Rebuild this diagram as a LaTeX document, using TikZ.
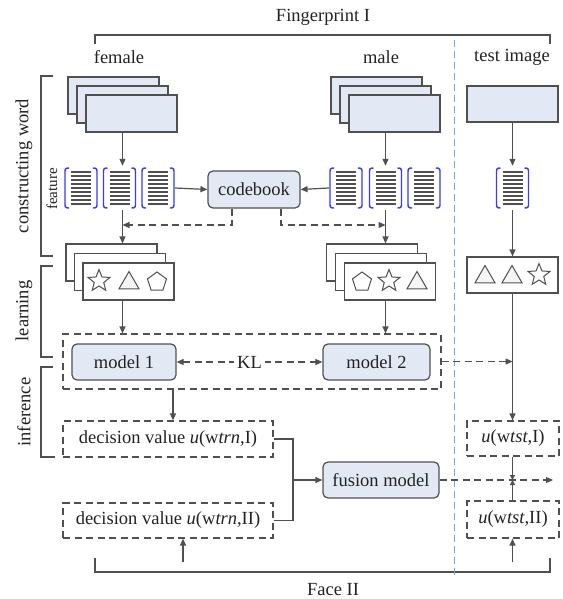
\documentclass[tikz,border=0pt]{standalone}
\usepackage{fontspec}
\setmainfont{Liberation Serif}
\usetikzlibrary{arrows.meta,shapes.geometric}
\definecolor{boxfill}{HTML}{E3E9F4}
\definecolor{edge}{HTML}{505050}
\definecolor{txt}{HTML}{222222}
\definecolor{featblue}{HTML}{3A3AF0}
\definecolor{sepblue}{HTML}{7AA3DA}
\newcommand\featicon[3]{%
  \node[minimum width=34pt, minimum height=44pt, inner sep=0pt] (#1) at (#2,#3) {};
  \draw[featblue, line width=1.4pt] ({#2-12},{#3-20}) .. controls ({#2-16},{#3-20}) and ({#2-16},{#3-19}) .. ({#2-16},{#3-15}) -- ({#2-16},{#3+15}) .. controls ({#2-16},{#3+19}) and ({#2-16},{#3+20}) .. ({#2-12},{#3+20});
  \draw[featblue, line width=1.4pt] ({#2+12},{#3-20}) .. controls ({#2+16},{#3-20}) and ({#2+16},{#3-19}) .. ({#2+16},{#3-15}) -- ({#2+16},{#3+15}) .. controls ({#2+16},{#3+19}) and ({#2+16},{#3+20}) .. ({#2+12},{#3+20});
  \foreach \k in {-16,-12,...,16} \draw[edge, line width=1.6pt] ({#2-10},{#3+\k}) -- ({#2+10},{#3+\k});
}
\begin{document}
\begin{tikzpicture}[x=1pt,y=-1pt, font=\rmfamily\fontsize{18.5}{22}\selectfont, text=txt,
  >={Triangle[length=7pt,width=6pt]},
  line/.style={draw=edge, line width=1.2pt},
  arr/.style={line, ->},
  dsh/.style={dash pattern=on 7pt off 4.5pt},
  img/.style={draw=edge, fill=boxfill, line width=1.2pt, minimum width=91pt, minimum height=37pt, inner sep=0pt},
  wbox/.style={draw=edge, fill=white, line width=1.2pt, minimum width=91pt, minimum height=37pt, inner sep=0pt},
  rbox/.style={draw=edge, fill=boxfill, line width=1.2pt, rounded corners=5pt, inner sep=0pt},
  dbox/.style={draw=edge, line width=1.2pt, dsh, inner sep=0pt},
  shp/.style={draw=edge, line width=1pt, inner sep=0pt},
  starshape/.style={shp, star, star points=5, star point ratio=2.3, minimum size=23pt},
  trishape/.style={shp, regular polygon, regular polygon sides=3, minimum size=23pt, fill=gray!8},
  pentshape/.style={shp, regular polygon, regular polygon sides=5, minimum size=20pt},
  brk/.style={draw=edge, line width=1.1pt},
]
\useasboundingbox (0,0) rectangle (562,599);

% top / bottom brackets
\node (tFP) at (323,17) {Fingerprint I};
\draw[brk] (95,44) -- (95,35) -- (550,35) -- (550,44);
\node (tFace) at (333,590) {Face II};
\draw[brk] (95,558) -- (95,572) -- (550,572) -- (550,558);

% column titles
\node (tfem) at (119,57) {female};
\node (tmal) at (381,57) {male};
\node (ttst) at (512,57) {test image};

% separator
\draw[sepblue, line width=1pt, dash pattern=on 7pt off 4pt] (454,40) -- (454,578);

% left stage brackets
\draw[brk] (53,76) -- (41,76) -- (41,256) -- (53,256);
\draw[brk] (53,266) -- (41,266) -- (41,357) -- (53,357);
\draw[brk] (53,367) -- (41,367) -- (41,457) -- (55,457);
\node[rotate=90] (lcw) at (24,166) {constructing word};
\node[rotate=90] (llr) at (24,311) {learning};
\node[rotate=90] (lin) at (24,412) {inference};
\node[rotate=90, font=\rmfamily\fontsize{15}{18}\selectfont] (lft) at (52,189) {feature};

% image stacks
\node[img] (fimg1) at (113.5,95.5) {};
\node[img] (fimg2) at (122.5,104.5) {};
\node[img] (fimg3) at (131.5,113.5) {};
\node[img] (mimg1) at (376.5,95.5) {};
\node[img] (mimg2) at (385.5,104.5) {};
\node[img] (mimg3) at (394.5,113.5) {};
\node[img, minimum height=36pt] (timg) at (512.5,104) {};

% features
\featicon{ff1}{81}{188}
\featicon{ff2}{119.5}{188}
\featicon{ff3}{158}{188}
\featicon{mf1}{346}{188}
\featicon{mf2}{385.5}{188}
\featicon{mf3}{424}{188}
\featicon{tf}{512.5}{188}

\node[rbox, minimum width=92pt, minimum height=37pt] (cb) at (254,189.5) {codebook};

% learning stacks
\node[wbox] (fl1) at (111.5,262.5) {};
\node[wbox] (fl2) at (120,272) {};
\node[wbox] (fl3) at (128.5,281.5) {};
\node[starshape] (fs1) at (99,281) {};
\node[trishape] (fs2) at (129,283) {};
\node[pentshape] (fs3) at (157,282) {};
\node[wbox] (ml1) at (372,262.5) {};
\node[wbox] (ml2) at (381,272) {};
\node[wbox] (ml3) at (390,281.5) {};
\node[pentshape] (ms1) at (362,282) {};
\node[starshape] (ms2) at (389,281) {};
\node[trishape] (ms3) at (417,283) {};
\node[wbox, minimum height=36pt] (tl) at (512.5,275) {};
\node[trishape] (ts1) at (485,277) {};
\node[trishape] (ts2) at (512,277) {};
\node[starshape] (ts3) at (539,275) {};

% models
\node[dbox, minimum width=378pt, minimum height=55pt] (mbox) at (252,361.5) {};
\node[rbox, minimum width=104pt, minimum height=36pt] (m1) at (124,362) {model 1};
\node[rbox, minimum width=107pt, minimum height=36pt] (m2) at (376.5,362) {model 2};

% decision values
\node[dbox, minimum width=210pt, minimum height=36pt] (d1) at (168,439) {decision value \textit{u}(w\textit{trn},I)};
\node[dbox, minimum width=210pt, minimum height=35pt] (d2) at (168,520.5) {decision value \textit{u}(w\textit{trn},II)};
\node[dbox, minimum width=92pt, minimum height=35pt] (u1) at (513,438.5) {\textit{u}(w\textit{tst},I)};
\node[dbox, minimum width=92pt, minimum height=37pt] (u2) at (513,519.5) {\textit{u}(w\textit{tst},II)};
\node[rbox, minimum width=116pt, minimum height=36pt] (fu) at (381,480) {fusion model};

% connectors
\coordinate (dy) at (0,225);
\coordinate (mrg) at (293,480);
\coordinate (outp) at (553,480);
\coordinate (b1) at (183,562);
\coordinate (b2) at (512.5,562);
\coordinate (d1top) at ([xshift=5pt]d1.north);

\draw[arr] (fimg2 |- fimg3.south) -- (fimg2 |- ff2.north);
\draw[arr] (mimg2 |- mimg3.south) -- (mimg2 |- mf2.north);
\draw[arr] (timg.south) -- (tf.north);
\draw[arr] (ff3.east) -- (cb.west);
\draw[arr] (mf1.west) -- (cb.east);
\draw[line, dsh, ->] ([xshift=-22pt]cb.south) |- (fimg2 |- dy);
\draw[line, dsh, ->] ([xshift=27pt]cb.south) |- (mimg2 |- dy);
\draw[arr] (fimg2 |- ff2.south) -- (fimg2 |- fl1.north);
\draw[arr] (mimg2 |- mf2.south) -- (mimg2 |- ml1.north);
\draw[arr] (tf.south) -- (tl.north);
\draw[arr] (fimg2 |- fl3.south) -- (fimg2 |- mbox.north);
\draw[arr] (mimg2 |- ml3.south) -- (mimg2 |- mbox.north);
\draw[line, dsh, <->] (m1.east) -- node[fill=white, inner sep=3pt] (kl) {KL} (m2.west);
\draw[line, dsh, ->] (mbox.east) -- (tl |- mbox.east);
\draw[arr] (tl.south) -- (tl |- u1.north);
\draw[arr] (d1top |- mbox.south) -- (d1top);
\draw[line] (d1.east) -| (mrg);
\draw[line] (d2.east) -| (mrg);
\draw[arr] (mrg) -- (fu.west);
\draw[line, dsh, ->] (fu.east) -- (outp);
\draw[line, -{Triangle[length=5pt,width=5pt]}] (tl |- u1.south) -- (tl |- fu.east);
\draw[line, -{Triangle[length=5pt,width=5pt]}] (tl |- u2.north) -- (tl |- fu.east);
\draw[arr] (b1) -- (b1 |- d2.south);
\draw[arr] (b2) -- (b2 |- u2.south);
\end{tikzpicture}
\end{document}
